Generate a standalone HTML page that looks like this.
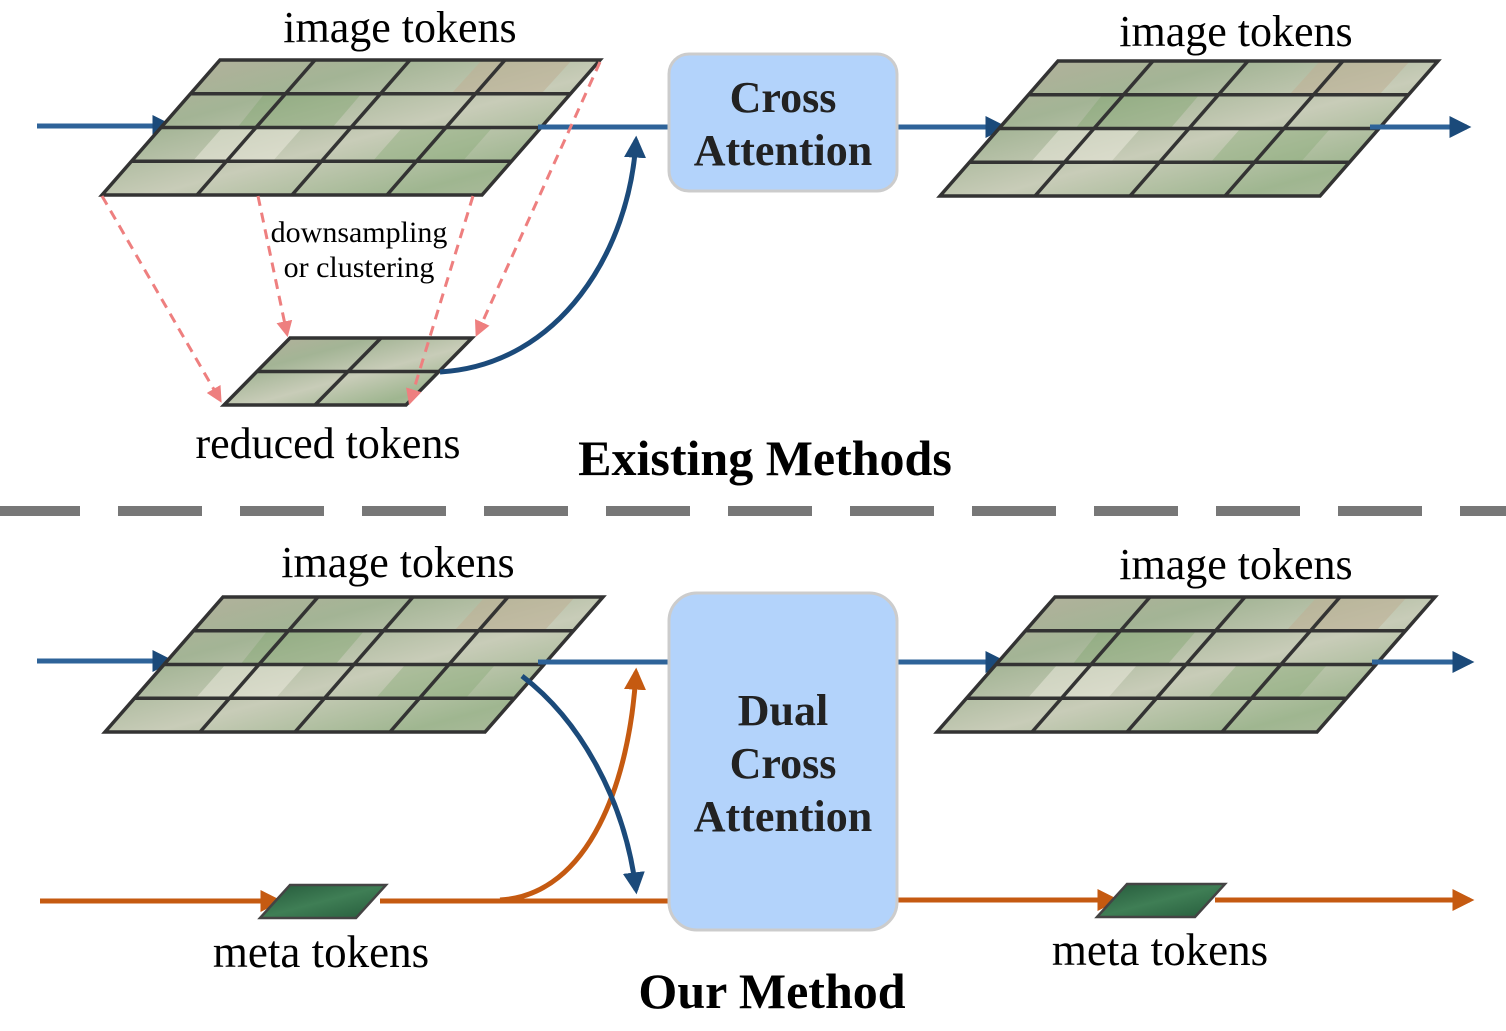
<!DOCTYPE html>
<html><head><meta charset="utf-8"><style>
html,body{margin:0;padding:0;background:#fff}
svg{display:block}
text{font-family:"Liberation Serif",serif}
</style></head><body>
<svg width="1506" height="1031" viewBox="0 0 1506 1031" xmlns="http://www.w3.org/2000/svg">
<defs>
<marker id="ad" viewBox="0 0 10 10" refX="8" refY="5" markerWidth="22" markerHeight="22" orient="auto" markerUnits="userSpaceOnUse"><path d="M0,0 L10,5 L0,10 z" fill="#1b4a7a"/></marker>
<marker id="ao" viewBox="0 0 10 10" refX="8" refY="5" markerWidth="22" markerHeight="22" orient="auto" markerUnits="userSpaceOnUse"><path d="M0,0 L10,5 L0,10 z" fill="#c55a11"/></marker>
<marker id="ap" viewBox="0 0 10 10" refX="8" refY="5" markerWidth="16" markerHeight="16" orient="auto" markerUnits="userSpaceOnUse"><path d="M0,0 L10,5 L0,10 z" fill="#ee7f7f"/></marker>
<linearGradient id="img" x1="0" y1="0" x2="1" y2="1">
<stop offset="0" stop-color="#b8b09e"/><stop offset="0.3" stop-color="#a3b495"/><stop offset="0.55" stop-color="#c8ccb8"/><stop offset="0.8" stop-color="#9fb690"/><stop offset="1" stop-color="#b3bda3"/>
</linearGradient>
<linearGradient id="meta" x1="0" y1="0" x2="1" y2="1">
<stop offset="0" stop-color="#24583a"/><stop offset="0.5" stop-color="#3f7e55"/><stop offset="1" stop-color="#255b3b"/>
</linearGradient>
<g id="grid">
<polygon points="118,0 498,0 380,135 0,135" fill="url(#img)"/>
<polygon points="163,33 260,33 230,68 135,68" fill="#7fa46f" opacity="0.4"/>
<polygon points="300,68 390,68 360,102 270,102" fill="#86aa76" opacity="0.4"/>
<polygon points="120,68 200,68 170,102 90,102" fill="#eeebe0" opacity="0.5"/>
<polygon points="380,0 470,0 440,33 350,33" fill="#beb196" opacity="0.6"/>
<g stroke="#333" stroke-width="3.5" fill="none">
<polygon points="118,0 498,0 380,135 0,135"/>
<line x1="88.5" y1="33.75" x2="468.5" y2="33.75"/>
<line x1="59" y1="67.5" x2="439" y2="67.5"/>
<line x1="29.5" y1="101.25" x2="409.5" y2="101.25"/>
<line x1="213" y1="0" x2="95" y2="135"/>
<line x1="308" y1="0" x2="190" y2="135"/>
<line x1="403" y1="0" x2="285" y2="135"/>
</g>
</g>
</defs>

<line x1="37" y1="126" x2="170" y2="126" stroke="#2e6399" stroke-width="5" marker-end="url(#ad)"/>
<use href="#grid" transform="translate(102,60)"/>
<line x1="538" y1="127" x2="668" y2="127" stroke="#2e6399" stroke-width="5"/>
<line x1="898" y1="127" x2="1003" y2="127" stroke="#2e6399" stroke-width="5" marker-end="url(#ad)"/>
<use href="#grid" transform="translate(940,61)"/>
<line x1="1370" y1="127" x2="1467" y2="127" stroke="#2e6399" stroke-width="5" marker-end="url(#ad)"/>
<rect x="669" y="54" width="228" height="137" rx="20" fill="#b3d3fb" stroke="#ccc" stroke-width="3"/>
<text x="783" y="112" font-size="44" font-weight="bold" text-anchor="middle" fill="#222">Cross</text>
<text x="783" y="165" font-size="44" font-weight="bold" text-anchor="middle" fill="#222">Attention</text>

<polygon points="290,338 472,338 406,405 224,405" fill="url(#img)"/>
<g stroke="#333" stroke-width="3.5" fill="none">
<polygon points="290,338 472,338 406,405 224,405"/>
<line x1="257" y1="371.5" x2="439" y2="371.5"/>
<line x1="381" y1="338" x2="315" y2="405"/>
</g>
<path d="M440,372 C560,365 630,250 636,140" stroke="#1b4a7a" stroke-width="5" fill="none" marker-end="url(#ad)"/>
<g stroke="#ee7f7f" stroke-width="3" stroke-dasharray="10,7" fill="none">
<line x1="102" y1="196" x2="220" y2="400" marker-end="url(#ap)"/>
<line x1="258" y1="196" x2="287" y2="334" marker-end="url(#ap)"/>
<line x1="473" y1="196" x2="410" y2="402" marker-end="url(#ap)"/>
<line x1="600" y1="62" x2="477" y2="334" marker-end="url(#ap)"/>
</g>
<text x="400" y="42" font-size="44" text-anchor="middle">image tokens</text>
<text x="1236" y="46" font-size="44" text-anchor="middle">image tokens</text>
<text x="359" y="242" font-size="30" text-anchor="middle">downsampling</text>
<text x="359" y="277" font-size="30" text-anchor="middle">or clustering</text>
<text x="328" y="458" font-size="44" text-anchor="middle">reduced tokens</text>
<text x="765" y="475" font-size="50" font-weight="bold" text-anchor="middle">Existing Methods</text>

<line x1="0" y1="511" x2="1506" y2="511" stroke="#777" stroke-width="10" stroke-dasharray="84,38" stroke-dashoffset="4"/>

<line x1="37" y1="661" x2="170" y2="661" stroke="#2e6399" stroke-width="5" marker-end="url(#ad)"/>
<use href="#grid" transform="translate(105,597)"/>
<line x1="538" y1="662" x2="668" y2="662" stroke="#2e6399" stroke-width="5"/>
<line x1="897" y1="662" x2="1003" y2="662" stroke="#2e6399" stroke-width="5" marker-end="url(#ad)"/>
<use href="#grid" transform="translate(937,597)"/>
<line x1="1372" y1="662" x2="1470" y2="662" stroke="#2e6399" stroke-width="5" marker-end="url(#ad)"/>

<line x1="40" y1="901" x2="278" y2="901" stroke="#c55a11" stroke-width="5" marker-end="url(#ao)"/>
<polygon points="290,885 386,885 356,918 260,918" fill="url(#meta)" stroke="#444" stroke-width="2.5"/>
<line x1="380" y1="901" x2="668" y2="901" stroke="#c55a11" stroke-width="5"/>
<line x1="897" y1="900" x2="1115" y2="900" stroke="#c55a11" stroke-width="5" marker-end="url(#ao)"/>
<polygon points="1127,884 1225,884 1195,917 1097,917" fill="url(#meta)" stroke="#444" stroke-width="2.5"/>
<line x1="1215" y1="900" x2="1470" y2="900" stroke="#c55a11" stroke-width="5" marker-end="url(#ao)"/>

<path d="M500,900 C590,895 630,780 636,672" stroke="#c55a11" stroke-width="5" fill="none" marker-end="url(#ao)"/>
<path d="M522,676 C580,720 625,800 636,890" stroke="#1b4a7a" stroke-width="5" fill="none" marker-end="url(#ad)"/>

<rect x="669" y="593" width="228" height="337" rx="28" fill="#b3d3fb" stroke="#ccc" stroke-width="3"/>
<text x="783" y="725" font-size="44" font-weight="bold" text-anchor="middle" fill="#222">Dual</text>
<text x="783" y="778" font-size="44" font-weight="bold" text-anchor="middle" fill="#222">Cross</text>
<text x="783" y="831" font-size="44" font-weight="bold" text-anchor="middle" fill="#222">Attention</text>

<text x="398" y="577" font-size="44" text-anchor="middle">image tokens</text>
<text x="1236" y="579" font-size="44" text-anchor="middle">image tokens</text>
<text x="321" y="967" font-size="45" text-anchor="middle">meta tokens</text>
<text x="1160" y="965" font-size="45" text-anchor="middle">meta tokens</text>
<text x="772" y="1008" font-size="50" font-weight="bold" text-anchor="middle">Our Method</text>
</svg>
</body></html>
